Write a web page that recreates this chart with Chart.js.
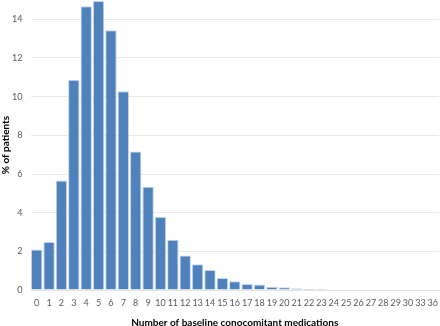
<!DOCTYPE html>
<html>
<head>
<meta charset="utf-8">
<script src="https://cdn.jsdelivr.net/npm/chart.js@4"></script>
<style>
  html, body { margin: 0; padding: 0; background: #fff; }
  #wrap { width: 440px; height: 326px; }
</style>
</head>
<body>
<div id="wrap"><canvas id="grafico" width="440" height="326"></canvas></div>
<script>
// number of baseline medications per patient
const medicacoes = ["0","1","2","3","4","5","6","7","8","9","10","11","12","13","14","15","16",
  "17","18","19","20","21","22","23","24","25","26","27","28","29","30","33","36"];
// % of patients for each count
const pacientes = [2.1, 2.48, 5.67, 10.88, 14.68, 14.95, 13.43, 10.28, 7.17, 5.34, 3.78, 2.6,
  1.78, 1.33, 1.03, 0.62, 0.45, 0.31, 0.29, 0.17, 0.14, 0.09, 0.07, 0.05, 0, 0, 0, 0, 0, 0, 0, 0, 0];
const yTicks = [0, 2, 4, 6, 8, 10, 12, 14];

const fonte = "Lato, 'Open Sans', sans-serif";

function gerarGrafico() {
  const ctx = document.getElementById("grafico").getContext("2d");
  new Chart(ctx, {
    type: "bar",
    data: {
      labels: medicacoes,
      datasets: [{
        data: pacientes,
        backgroundColor: "#4f81bd",
        borderColor: "#c6d6ea",
        borderWidth: 1,
        barPercentage: 0.92,
        categoryPercentage: 1
      }]
    },
    options: {
      responsive: false,
      animation: false,
      layout: { padding: { left: 0, right: 1, top: 0, bottom: 0 } },
      plugins: { legend: { display: false }, tooltip: { enabled: false } },
      scales: {
        x: {
          grid: { display: false, drawTicks: false },
          border: { display: true, color: "#e3e3e3" },
          ticks: { color: "#595959", font: { family: fonte, size: 9 }, padding: 8, maxRotation: 0, autoSkip: false },
          title: {
            display: true,
            text: "Number of baseline conocomitant medications",
            color: "#000",
            font: { family: fonte, size: 10, weight: "bold" },
            padding: { top: 8, bottom: -3 }
          },
          afterFit: s => { s.height = 36; s.paddingLeft = 0; s.paddingRight = 0; }
        },
        y: {
          min: 0,
          max: 15,
          grid: { color: "#e8e8e8", drawTicks: false },
          border: { display: false },
          afterBuildTicks: s => { s.ticks = yTicks.map(v => ({ value: v })); },
          ticks: { color: "#595959", font: { family: fonte, size: 9 }, padding: 8 },
          title: {
            display: true,
            text: "% of patients",
            color: "#000",
            font: { family: fonte, size: 10, weight: "bold" },
            padding: { top: 0, bottom: 0 }
          },
          afterFit: s => { s.width = 30.5; s.paddingTop = 0; s.paddingBottom = 0; }
        }
      }
    }
  });
}

gerarGrafico();
</script>
</body>
</html>
